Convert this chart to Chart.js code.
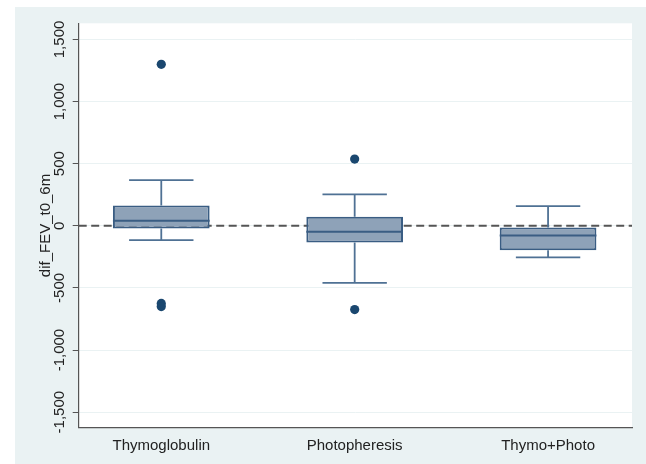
<!DOCTYPE html>
<html>
<head>
<meta charset="utf-8">
<script src="https://cdn.jsdelivr.net/npm/chart.js@4/dist/chart.umd.min.js"></script>
<style>
  html, body { margin: 0; padding: 0; background: #fff; }
  #wrap { position: relative; width: 646px; height: 464px; background: #fff; }
  #frame { position: absolute; left: 15px; top: 7px; width: 631px; height: 457px; background: #eaf2f3; }
  canvas { display: block; }
</style>
</head>
<body>
<div id="wrap"><div id="frame"><canvas id="chart" width="631" height="457"></canvas></div></div>
<script>
// Datos (dif_FEV_t0_6m)
const categories = ['Thymoglobulin', 'Photopheresis', 'Thymo+Photo'];
const whiskerLow = [-115, -459, -254];
const q1 = [-21, -134, -196];
const median = [40, -48, -77];
const q3 = [164, 72, -13];
const whiskerHigh = [368, 253, 158];
const outliers = [[1300, -625, -650], [537, -674], []];
const yTicks = [-1500, -1000, -500, 0, 500, 1000, 1500];

// Escalas
const yMin = -1625, yMax = 1630;
const xMin = 0.573, xMax = 3.434;
const boxWidth = 0.5;
const capWidth = 0.333;

const pos = categories.map((c, i) => i + 1);

// Caja (barras flotantes)
const boxData = pos.map((x, i) => ({ x: x, y: [q1[i], q3[i]] }));

// Mediana
const medianData = [];
pos.forEach((x, i) => {
    medianData.push({ x: x - boxWidth / 2, y: median[i] });
    medianData.push({ x: x + boxWidth / 2, y: median[i] });
    medianData.push({ x: x, y: null });
});

// Bigotes y topes
const whiskerData = [];
pos.forEach((x, i) => {
    whiskerData.push({ x: x, y: q3[i] }, { x: x, y: whiskerHigh[i] }, { x: x, y: null });
    whiskerData.push({ x: x - capWidth / 2, y: whiskerHigh[i] }, { x: x + capWidth / 2, y: whiskerHigh[i] }, { x: x, y: null });
    whiskerData.push({ x: x, y: q1[i] }, { x: x, y: whiskerLow[i] }, { x: x, y: null });
    whiskerData.push({ x: x - capWidth / 2, y: whiskerLow[i] }, { x: x + capWidth / 2, y: whiskerLow[i] }, { x: x, y: null });
});

// Valores atípicos
const outlierData = [];
outliers.forEach((vals, i) => vals.forEach(v => outlierData.push({ x: pos[i], y: v })));

const boxFill = '#8ea2b8';
const boxLine = '#3a5d83';
const dotColor = '#1a476f';

// Fondo blanco del área de trazado
const plotBg = {
    id: 'plotBg',
    beforeDraw(chart) {
        const { ctx, chartArea } = chart;
        ctx.save();
        ctx.fillStyle = '#ffffff';
        ctx.fillRect(chartArea.left, chartArea.top, chartArea.right - chartArea.left, chartArea.bottom - chartArea.top);
        ctx.restore();
    }
};

Chart.defaults.font.family = '"Liberation Sans", Arial, sans-serif';
Chart.defaults.font.size = 15;
Chart.defaults.color = '#222';

new Chart(document.getElementById('chart'), {
    type: 'bar',
    data: {
        datasets: [
            {
                type: 'line',
                data: [{ x: xMin, y: 0 }, { x: xMax, y: 0 }],
                borderColor: '#555',
                borderWidth: 2,
                borderDash: [8, 4.5],
                pointRadius: 0,
                order: 10
            },
            {
                type: 'bar',
                data: boxData,
                backgroundColor: boxFill,
                borderColor: boxLine,
                borderWidth: 2,
                borderSkipped: false,
                barPercentage: boxWidth,
                categoryPercentage: 1,
                order: 5
            },
            {
                type: 'line',
                data: whiskerData,
                borderColor: '#4f7194',
                borderWidth: 1.8,
                pointRadius: 0,
                spanGaps: false,
                order: 4
            },
            {
                type: 'line',
                data: medianData,
                borderColor: boxLine,
                borderWidth: 2,
                pointRadius: 0,
                spanGaps: false,
                order: 3
            },
            {
                type: 'scatter',
                data: outlierData,
                backgroundColor: dotColor,
                borderWidth: 0,
                pointRadius: 4.6,
                order: 1
            }
        ]
    },
    options: {
        responsive: false,
        animation: false,
        layout: { padding: { left: 0, top: 16.3, right: 14, bottom: 0 } },
        plugins: {
            legend: { display: false },
            tooltip: { enabled: false }
        },
        scales: {
            x: {
                type: 'linear',
                offset: false,
                min: xMin,
                max: xMax,
                afterBuildTicks: scale => { scale.ticks = pos.map(v => ({ value: v })); },
                afterFit: scale => { scale.height = 36.3; },
                ticks: {
                    autoSkip: false,
                    maxRotation: 0,
                    padding: 9,
                    callback: v => categories[Math.round(v) - 1]
                },
                grid: { display: false, drawTicks: false },
                border: { display: true, color: '#555', width: 1.2 }
            },
            y: {
                min: yMin,
                max: yMax,
                afterBuildTicks: scale => { scale.ticks = yTicks.map(v => ({ value: v })); },
                afterFit: scale => { scale.width = 63.7; },
                ticks: {
                    autoSkip: false,
                    minRotation: 90,
                    maxRotation: 90,
                    crossAlign: 'center',
                    padding: -8.5,
                    callback: v => v.toLocaleString('en-US')
                },
                grid: {
                    color: '#eaf2f3',
                    lineWidth: 1,
                    drawTicks: true,
                    tickLength: 6,
                    tickColor: '#555',
                    tickWidth: 1
                },
                border: { display: true, color: '#555', width: 1.2 },
                title: {
                    display: true,
                    text: 'dif_FEV_t0_6m',
                    padding: { top: 22, bottom: 0 },
                    font: { size: 15 }
                }
            }
        }
    },
    plugins: [plotBg]
});
</script>
</body>
</html>
